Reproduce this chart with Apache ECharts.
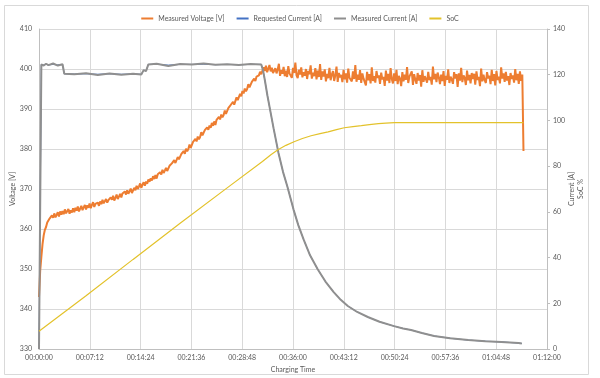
<!DOCTYPE html>
<html>
<head>
<meta charset="utf-8">
<script src="https://cdn.jsdelivr.net/npm/echarts@6/dist/echarts.min.js"></script>
<style>
  html, body { margin: 0; padding: 0; background: #fff; }
  #chart { width: 600px; height: 378px; }
</style>
</head>
<body>
<div id="chart"></div>
<script>
// voltage sampled every 10 s from 00:00:00
const VOLT_STEP = 10;
const measuredVoltage = [
    343.0, 349.5, 353.0, 356.2, 358.4, 359.8, 360.5, 361.6, 361.9, 362.6,
    362.2, 363.4, 362.8, 363.9, 362.9, 363.5, 364.2, 363.1, 364.4, 363.6,
    364.5, 363.7, 364.9, 363.9, 364.3, 365.0, 363.8, 364.7, 364.1, 365.2,
    364.2, 365.3, 364.6, 365.6, 364.4, 365.1, 365.8, 364.7, 365.4, 366.0,
    364.9, 365.9, 365.3, 366.4, 365.2, 366.0, 366.7, 365.5, 366.3, 365.8,
    366.6, 365.8, 366.9, 366.2, 367.3, 366.4, 366.0, 367.5, 366.6, 367.2,
    366.8, 367.9, 367.3, 368.3, 367.1, 367.8, 368.6, 367.5, 368.1, 368.8,
    367.9, 368.9, 368.4, 369.4, 368.6, 369.7, 368.8, 369.3, 370.1, 369.0,
    369.2, 370.3, 369.7, 370.8, 370.0, 370.6, 371.4, 370.3, 371.1, 371.7,
    370.8, 371.9, 371.3, 372.4, 371.8, 372.7, 372.1, 373.2, 372.5, 373.5,
    372.6, 373.7, 373.2, 374.2, 373.6, 374.8, 374.0, 374.6, 375.3, 374.5,
    374.6, 375.8, 375.3, 376.4, 375.9, 377.2, 376.5, 377.0, 378.0, 377.4,
    377.5, 378.7, 378.2, 379.5, 378.8, 380.1, 379.4, 380.0, 381.1, 380.3,
    380.5, 381.8, 381.3, 382.5, 381.9, 383.1, 382.4, 383.0, 384.2, 383.4,
    383.5, 384.7, 384.2, 385.4, 384.8, 385.9, 385.3, 386.5, 385.8, 386.9,
    386.0, 387.3, 386.8, 388.0, 387.4, 388.6, 387.9, 388.5, 389.6, 388.8,
    389.0, 390.2, 389.8, 391.0, 390.5, 391.8, 391.1, 391.6, 392.9, 392.2,
    392.5, 393.8, 393.2, 394.5, 393.9, 395.1, 394.4, 395.0, 396.2, 395.4,
    395.5, 396.8, 396.3, 397.6, 397.0, 398.1, 397.6, 398.4, 399.3, 398.7,
    398.9, 400.4, 399.5, 400.8, 399.2, 400.1, 401.0, 399.4, 400.3, 399.0,
    398.5, 400.2, 398.9, 399.9, 401.3, 398.3, 399.7, 398.8, 400.5, 398.2,
    399.6, 398.0, 400.7, 398.9, 399.4, 397.8, 400.3, 399.0, 401.6, 398.4,
    397.7, 399.8, 398.6, 400.4, 397.9, 399.2, 398.3, 400.0, 397.5, 399.5,
    398.7, 400.9, 397.6, 399.1, 398.2, 400.2, 397.4, 399.6, 398.0, 401.2,
    397.3, 399.4, 398.1, 399.9, 396.9, 398.8, 397.7, 400.3, 397.2, 398.6,
    399.5, 397.0, 398.4, 400.6, 396.8, 399.0, 397.9, 398.5, 396.7, 399.8,
    397.4, 398.9, 396.6, 400.1, 397.8, 398.3, 396.9, 399.4, 397.5, 401.0,
    396.8, 398.6, 397.3, 399.7, 396.5, 398.9, 397.6, 398.1, 395.9, 399.3,
    397.2, 398.7, 396.4, 400.4, 397.0, 398.2, 396.6, 399.5, 397.8, 398.4,
    396.3, 399.1, 397.4, 398.0, 395.8, 399.6, 397.1, 398.8, 396.5, 400.2,
    397.5, 396.4, 398.9, 397.0, 399.8, 396.2, 398.3, 397.6, 395.7, 399.2,
    396.9, 398.6, 397.3, 400.5, 396.5, 398.1, 397.7, 399.4, 396.0, 398.7,
    397.4, 396.3, 399.0, 397.1, 398.5, 395.6, 399.7, 396.8, 398.2, 397.5,
    396.6, 399.3, 397.2, 398.0, 396.1, 400.6, 397.4, 398.8, 396.7, 399.1,
    397.9, 396.2, 398.6, 397.0, 399.5, 395.8, 398.3, 397.3, 399.9, 396.5,
    398.1, 397.4, 396.3, 399.2, 397.6, 398.7, 395.5, 398.9, 397.1, 400.3,
    396.7, 398.4, 397.8, 396.0, 399.6, 397.2, 398.5, 396.4, 399.0, 397.5,
    398.8, 396.1, 399.4, 397.3, 398.0, 395.7, 400.1, 396.9, 398.6, 397.2,
    396.5, 399.2, 397.7, 398.3, 396.2, 399.8, 397.0, 398.7, 395.9, 399.5,
    397.3, 398.1, 396.4, 400.4, 397.6, 398.9, 396.8, 399.3, 397.1, 398.2,
    396.0, 399.0, 397.5, 398.4, 396.6, 400.0, 397.2, 398.8, 396.3, 399.4,
    397.0, 398.6, 379.5
];

// current in A, time in s
const currentTime = [
    0, 20, 40, 60, 80, 120, 160, 200, 215, 300, 400, 500, 600, 700, 800, 870,
    890, 910, 930, 1000, 1100, 1200, 1300, 1400, 1500, 1600, 1700, 1800, 1890,
    1905, 1920, 1942, 1965, 1995, 2036, 2075, 2112, 2164, 2205, 2250, 2305, 2370,
    2436, 2506, 2566, 2626, 2706, 2796, 2896, 3019, 3096, 3164, 3256, 3360, 3496,
    3650, 3796, 3932, 4077, 4106
];
const measuredCurrent = [
    0, 124.5, 124.0, 124.8, 124.2, 124.9, 124.0, 124.6, 120.4, 120.2, 120.6, 119.9, 120.5, 120.0, 120.4, 120.1,
    122.0, 121.6, 124.5, 124.8, 123.8, 124.7, 124.5, 124.9, 124.4, 124.6, 124.3, 124.7, 124.5,
    122.0, 117.8, 111.0, 104.7, 96.5, 85.9, 77.5, 71.1, 61.1, 54.2, 48.0, 41.0, 34.9,
    29.5, 24.9, 21.5, 18.8, 16.2, 14.0, 11.9, 10.0, 9.0, 8.3, 7.0, 5.7, 4.7,
    3.9, 3.4, 3.1, 2.6, 2.4
];
const requestedCurrent = [
    0, 124.5, 124.3, 124.5, 124.3, 124.5, 124.3, 124.5, 120.4, 120.3, 120.4, 120.2, 120.4, 120.2, 120.3, 120.2,
    122.0, 121.6, 124.5, 124.6, 124.2, 124.5, 124.5, 124.6, 124.4, 124.5, 124.4, 124.5, 124.5,
    122.0, 117.8, 111.0, 104.7, 96.5, 85.9, 77.5, 71.1, 61.1, 54.2, 48.0, 41.0, 34.9,
    29.5, 24.9, 21.5, 18.8, 16.2, 14.0, 11.9, 10.0, 9.0, 8.3, 7.0, 5.7, 4.7,
    3.9, 3.4, 3.1, 2.6, 2.4
];

// state of charge in %
const socTime = [0, 400, 800, 1200, 1600, 1900, 1972, 2032, 2100, 2169, 2240, 2314, 2390, 2459, 2530, 2596, 2670, 2741, 2810, 2886, 2950, 3023, 4120];
const soc = [7.8, 23.3, 39.2, 55.0, 70.5, 82.0, 85.0, 87.2, 89.1, 90.7, 92.1, 93.3, 94.2, 95.0, 96.0, 96.8, 97.3, 97.7, 98.2, 98.6, 98.8, 99.0, 99.0];

const X_MAX = 4320;
const X_TICK = 432;

const pad = function (n) { return (n < 10 ? '0' : '') + n; };
const hms = function (v) {
    const h = Math.floor(v / 3600);
    const m = Math.floor((v % 3600) / 60);
    const s = Math.round(v % 60);
    return pad(h) + ':' + pad(m) + ':' + pad(s);
};
const pairs = function (xs, ys) { return xs.map((x, i) => [x, ys[i]]); };

const FONT = 'Lato, "Open Sans", sans-serif';
const TXT = '#595959';
const GRID = '#d9d9d9';

const chart = echarts.init(document.getElementById('chart'));
chart.setOption({
    animation: false,
    backgroundColor: '#fff',
    textStyle: {fontFamily: FONT},
    graphic: [{
        type: 'rect',
        shape: {x: 4.5, y: 5.5, width: 584, height: 369},
        style: {fill: 'none', stroke: '#d9d9d9', lineWidth: 1},
        silent: true
    }],
    legend: {
        top: 10,
        left: 'center',
        itemWidth: 12,
        itemHeight: 2,
        itemGap: 12,
        icon: 'rect',
        textStyle: {fontSize: 7, color: TXT, fontFamily: FONT},
        data: ['Measured Voltage [V]', 'Requested Current [A]', 'Measured Current [A]', 'SoC']
    },
    grid: {left: 39, right: 53, top: 29, bottom: 28},
    xAxis: {
        type: 'value',
        min: 0,
        max: X_MAX,
        interval: X_TICK,
        name: 'Charging Time',
        nameLocation: 'middle',
        nameGap: 17,
        nameTextStyle: {fontSize: 7, color: TXT},
        axisLine: {show: true, lineStyle: {color: '#bfbfbf'}},
        axisTick: {show: false},
        axisLabel: {fontSize: 7, color: TXT, margin: 5, formatter: hms},
        splitLine: {show: true, lineStyle: {color: GRID}}
    },
    yAxis: [{
        type: 'value',
        min: 330,
        max: 410,
        interval: 10,
        name: 'Voltage [V]',
        nameLocation: 'middle',
        nameGap: 23,
        nameMoveOverlap: false,
        nameTextStyle: {fontSize: 7, color: TXT},
        axisLine: {show: true, lineStyle: {color: '#bfbfbf'}},
        axisTick: {show: false},
        axisLabel: {fontSize: 7, color: TXT, margin: 7},
        splitLine: {show: true, lineStyle: {color: GRID}}
    }, {
        type: 'value',
        min: 0,
        max: 140,
        interval: 20,
        position: 'right',
        name: 'Current [A]\nSoC %',
        nameLocation: 'middle',
        nameRotate: 90,
        nameGap: 20,
        nameMoveOverlap: false,
        nameTextStyle: {fontSize: 7, color: TXT, lineHeight: 9},
        axisLine: {show: true, lineStyle: {color: '#bfbfbf'}},
        axisTick: {show: true, length: 3, lineStyle: {color: '#bfbfbf'}},
        axisLabel: {fontSize: 7, color: TXT, margin: 6},
        splitLine: {show: false}
    }],
    series: [{
        name: 'Measured Voltage [V]',
        type: 'line',
        yAxisIndex: 0,
        showSymbol: false,
        color: '#ed7d31',
        lineStyle: {width: 2, color: '#ed7d31'},
        data: measuredVoltage.map((v, i) => [i * VOLT_STEP, v])
    }, {
        name: 'Requested Current [A]',
        type: 'line',
        yAxisIndex: 1,
        showSymbol: false,
        color: '#4472c4',
        lineStyle: {width: 1, color: '#4472c4'},
        data: pairs(currentTime, requestedCurrent)
    }, {
        name: 'Measured Current [A]',
        type: 'line',
        yAxisIndex: 1,
        showSymbol: false,
        color: '#8f8f8f',
        lineStyle: {width: 2, color: '#8f8f8f'},
        data: pairs(currentTime, measuredCurrent)
    }, {
        name: 'SoC',
        type: 'line',
        yAxisIndex: 1,
        showSymbol: false,
        color: '#e3c22b',
        lineStyle: {width: 1.2, color: '#e3c22b'},
        data: pairs(socTime, soc)
    }]
});
</script>
</body>
</html>
